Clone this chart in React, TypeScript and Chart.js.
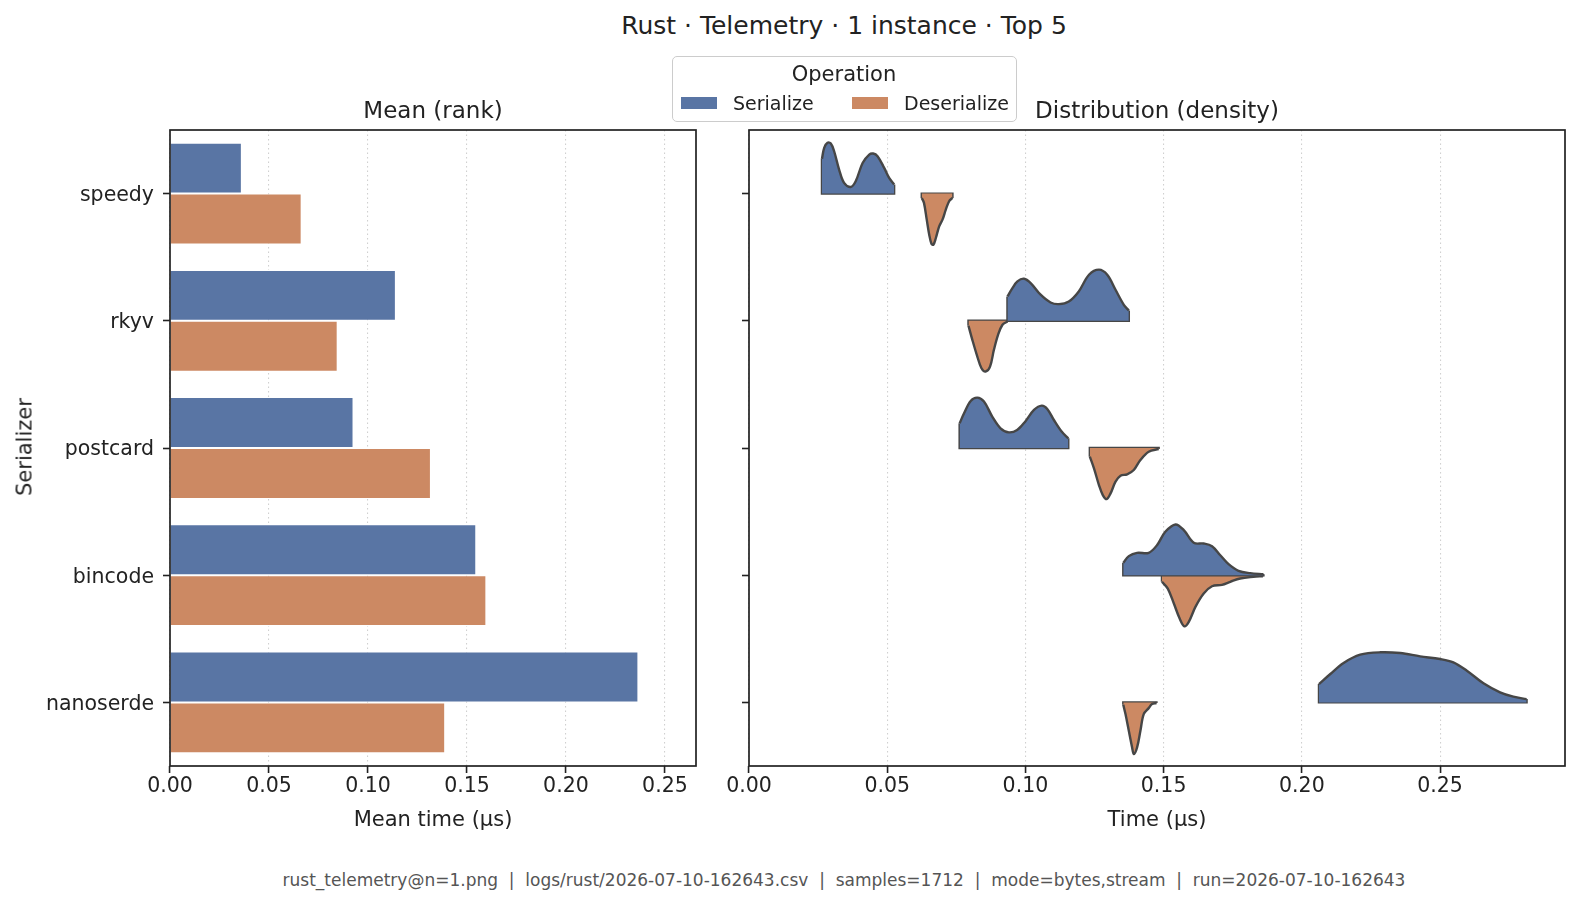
import React, { useEffect, useRef } from 'react';
import { Chart, registerables } from 'chart.js';

Chart.register(...registerables);

const FONT = 'DejaVu Sans';
const BLUE = '#5975a4';
const ORANGE = '#cc8963';
const LINE = '#464646';
const INK = '#222222';

const serializers = ['speedy', 'rkyv', 'postcard', 'bincode', 'nanoserde'];
const operations = ['Serialize', 'Deserialize'];
const meanSerialize = [0.0363, 0.1141, 0.0927, 0.1547, 0.2366];
const meanDeserialize = [0.0665, 0.0847, 0.1318, 0.1598, 0.139];
const meanTicks = [0, 0.05, 0.1, 0.15, 0.2, 0.25];
const timeTicks = [0, 0.05, 0.1, 0.15, 0.2, 0.25];

// [time (µs), half-width in category units]
const speedySer: [number, number][] = [
  [0.0264, 0.273], [0.0272, 0.36], [0.0284, 0.399], [0.0296, 0.394], [0.0308, 0.333],
  [0.0326, 0.189], [0.0344, 0.084], [0.0368, 0.052], [0.0386, 0.097], [0.0411, 0.241],
  [0.0435, 0.307], [0.0449, 0.315], [0.0465, 0.294], [0.0489, 0.202], [0.0507, 0.123], [0.0525, 0.071],
];
const speedyDe: [number, number][] = [
  [0.0625, 0.035], [0.0633, 0.073], [0.0643, 0.205], [0.0652, 0.323], [0.066, 0.394],
  [0.0667, 0.402], [0.0676, 0.349], [0.0688, 0.257], [0.07, 0.205], [0.0712, 0.126],
  [0.0724, 0.06], [0.0736, 0.034],
];
const rkyvSer: [number, number][] = [
  [0.0935, 0.192], [0.0953, 0.257], [0.0971, 0.31], [0.0995, 0.331], [0.1019, 0.297],
  [0.1055, 0.205], [0.1091, 0.144], [0.1121, 0.131], [0.1157, 0.152], [0.1193, 0.231],
  [0.123, 0.362], [0.1266, 0.402], [0.1296, 0.362], [0.1326, 0.244], [0.1356, 0.126], [0.1374, 0.081],
];
const rkyvDe: [number, number][] = [
  [0.0794, 0.039], [0.0808, 0.15], [0.0826, 0.281], [0.0841, 0.373], [0.0856, 0.399],
  [0.0872, 0.36], [0.0886, 0.228], [0.0901, 0.11], [0.0917, 0.031], [0.0935, 0.005],
];
const postcardSer: [number, number][] = [
  [0.0762, 0.194], [0.0778, 0.273], [0.0802, 0.37], [0.0826, 0.396], [0.085, 0.365],
  [0.088, 0.247], [0.091, 0.155], [0.094, 0.123], [0.097, 0.142], [0.1001, 0.213],
  [0.1031, 0.299], [0.1059, 0.333], [0.1079, 0.307], [0.1103, 0.22], [0.1131, 0.129], [0.1155, 0.076],
];
const postcardDe: [number, number][] = [
  [0.1233, 0.068], [0.1248, 0.16], [0.1266, 0.291], [0.128, 0.37], [0.1294, 0.402],
  [0.1308, 0.357], [0.1326, 0.265], [0.1344, 0.218], [0.1368, 0.207], [0.1392, 0.173],
  [0.1416, 0.094], [0.1446, 0.029], [0.1482, 0.008],
];
const bincodeSer: [number, number][] = [
  [0.1354, 0.097], [0.1374, 0.15], [0.1404, 0.176], [0.1446, 0.176], [0.1476, 0.236],
  [0.1506, 0.341], [0.1543, 0.399], [0.1573, 0.354], [0.1609, 0.255], [0.1645, 0.249],
  [0.1675, 0.228], [0.1705, 0.157], [0.1735, 0.087], [0.1771, 0.034], [0.1813, 0.016], [0.1861, 0.008],
];
const bincodeDe: [number, number][] = [
  [0.1494, 0.052], [0.1515, 0.105], [0.1537, 0.223], [0.1558, 0.341], [0.1575, 0.402],
  [0.1591, 0.367], [0.1615, 0.249], [0.1645, 0.144], [0.1675, 0.087], [0.1711, 0.076],
  [0.1741, 0.052], [0.1777, 0.026], [0.1825, 0.013], [0.1859, 0.008],
];
const nanoserdeSer: [number, number][] = [
  [0.2062, 0.144], [0.2103, 0.223], [0.2151, 0.31], [0.2211, 0.375], [0.2284, 0.394],
  [0.2356, 0.388], [0.2428, 0.362], [0.25, 0.341], [0.2548, 0.315], [0.2597, 0.249],
  [0.2657, 0.15], [0.2717, 0.079], [0.2765, 0.045], [0.2813, 0.026],
];
const nanoserdeDe: [number, number][] = [
  [0.1354, 0.018], [0.1362, 0.092], [0.1374, 0.223], [0.1386, 0.354], [0.1392, 0.407],
  [0.1404, 0.354], [0.1416, 0.223], [0.1428, 0.092], [0.1446, 0.045], [0.1458, 0.013], [0.1474, 0.005],
];

const serializeDensity = [speedySer, rkyvSer, postcardSer, bincodeSer, nanoserdeSer];
const deserializeDensity = [speedyDe, rkyvDe, postcardDe, bincodeDe, nanoserdeDe];

const boxPlugin = {
  id: 'axesBox',
  afterDraw(chart: any) {
    const { ctx, chartArea: a } = chart;
    ctx.save();
    ctx.strokeStyle = INK;
    ctx.lineWidth = 1.7;
    ctx.strokeRect(a.left, a.top, a.right - a.left, a.bottom - a.top);
    ctx.restore();
  },
};

const tickFont = { family: FONT, size: 20.5 };

function xScale(max: number, ticks: number[]) {
  return {
    type: 'linear' as const,
    position: 'bottom' as const,
    min: 0,
    max,
    afterBuildTicks: (s: any) => {
      s.ticks = ticks.map((v) => ({ value: v }));
    },
    afterFit: (s: any) => {
      s.height = 94;
    },
    ticks: {
      font: tickFont,
      color: INK,
      padding: 1,
      maxRotation: 0,
      autoSkip: false,
      callback: (v: any) => Number(v).toFixed(2),
    },
    grid: {
      color: '#d0d0d0',
      lineWidth: 1.1,
      tickColor: INK,
      tickLength: 7,
      tickWidth: 1.6,
      drawTicks: true,
    },
    border: { display: false, dash: [1.5, 3] },
  };
}

function halfViolin(pts: [number, number][], center: number, sign: number, color: string) {
  const fillSet = {
    data: pts.map(([x, h]) => ({ x, y: center + sign * h })),
    fill: { value: center },
    backgroundColor: color,
    borderColor: LINE,
    borderWidth: 2.4,
    tension: 0.35,
    pointRadius: 0,
  };
  const first = pts[0];
  const last = pts[pts.length - 1];
  const edgeSet = {
    data: [
      { x: first[0], y: center + sign * first[1] },
      { x: first[0], y: center },
      { x: last[0], y: center },
      { x: last[0], y: center + sign * last[1] },
    ],
    fill: false,
    borderColor: LINE,
    borderWidth: 2.4,
    tension: 0,
    pointRadius: 0,
  };
  return [fillSet, edgeSet];
}

export default function App() {
  const leftRef = useRef<HTMLCanvasElement>(null);
  const rightRef = useRef<HTMLCanvasElement>(null);

  useEffect(() => {
    const left = new Chart(leftRef.current as HTMLCanvasElement, {
      type: 'bar',
      data: {
        labels: serializers,
        datasets: [
          {
            label: operations[0],
            data: meanSerialize,
            backgroundColor: BLUE,
            borderColor: '#ffffff',
            borderWidth: 1,
            categoryPercentage: 0.8,
            barPercentage: 1.0,
          },
          {
            label: operations[1],
            data: meanDeserialize,
            backgroundColor: ORANGE,
            borderColor: '#ffffff',
            borderWidth: 1,
            categoryPercentage: 0.8,
            barPercentage: 1.0,
          },
        ],
      },
      options: {
        indexAxis: 'y',
        responsive: false,
        animation: false,
        events: [],
        layout: { padding: { top: 30, right: 14, left: 0, bottom: 0 } },
        plugins: { legend: { display: false }, tooltip: { enabled: false } },
        scales: {
          x: xScale(0.2657, meanTicks),
          y: {
            type: 'category',
            afterFit: (s: any) => {
              s.width = 170;
            },
            ticks: { font: tickFont, color: INK, padding: 9, labelOffset: 2 },
            grid: {
              drawOnChartArea: false,
              drawTicks: true,
              offset: false,
              tickLength: 7,
              tickWidth: 1.6,
              tickColor: INK,
            },
            border: { display: false },
          },
        },
      },
      plugins: [boxPlugin],
    } as any);

    const datasets: any[] = [];
    serializers.forEach((_, i) => {
      datasets.push(...halfViolin(serializeDensity[i], i, -1, BLUE));
      datasets.push(...halfViolin(deserializeDensity[i], i, 1, ORANGE));
    });

    const right = new Chart(rightRef.current as HTMLCanvasElement, {
      type: 'line',
      data: { datasets },
      options: {
        responsive: false,
        animation: false,
        events: [],
        layout: { padding: { top: 30, right: 14, left: 0, bottom: 0 } },
        plugins: { legend: { display: false }, tooltip: { enabled: false } },
        scales: {
          x: xScale(0.2952, timeTicks),
          y: {
            type: 'linear',
            min: -0.5,
            max: 4.5,
            reverse: true,
            afterBuildTicks: (s: any) => {
              s.ticks = serializers.map((_, i) => ({ value: i }));
            },
            afterFit: (s: any) => {
              s.width = 29;
            },
            ticks: { font: tickFont, callback: () => '' },
            grid: {
              drawOnChartArea: false,
              drawTicks: true,
              tickLength: 7,
              tickWidth: 1.6,
              tickColor: INK,
            },
            border: { display: false },
          },
        },
      },
      plugins: [boxPlugin],
    } as any);

    return () => {
      left.destroy();
      right.destroy();
    };
  }, []);

  const text = (
    x: number,
    y: number,
    s: string,
    size: number,
    extra: React.CSSProperties = {},
    anchor = 'translate(-50%,-50%)'
  ) => (
    <div
      style={{
        position: 'absolute',
        left: x,
        top: y,
        transform: anchor,
        fontFamily: FONT,
        fontSize: size,
        lineHeight: 1,
        whiteSpace: 'nowrap',
        color: INK,
        ...extra,
      }}
    >
      {s}
    </div>
  );

  return (
    <div
      style={{
        position: 'absolute',
        left: 0,
        top: 0,
        width: 1579,
        height: 905,
        background: '#ffffff',
        overflow: 'hidden',
      }}
    >
      <canvas
        ref={leftRef}
        width={710}
        height={760}
        style={{ position: 'absolute', left: 0, top: 100, width: 710, height: 760, display: 'block' }}
      />
      <canvas
        ref={rightRef}
        width={859}
        height={760}
        style={{ position: 'absolute', left: 720, top: 100, width: 859, height: 760, display: 'block' }}
      />
      {text(844, 25, 'Rust · Telemetry · 1 instance · Top 5', 25)}
      {text(433, 110, 'Mean (rank)', 23)}
      {text(1157, 110, 'Distribution (density)', 23)}
      {text(433, 819, 'Mean time (µs)', 21)}
      {text(1157, 819, 'Time (µs)', 21)}
      {text(25, 447, 'Serializer', 21, {}, 'translate(-50%,-50%) rotate(-90deg)')}
      {text(844, 880, 'rust_telemetry@n=1.png  |  logs/rust/2026-07-10-162643.csv  |  samples=1712  |  mode=bytes,stream  |  run=2026-07-10-162643', 17, { color: '#555555', whiteSpace: 'pre' })}
      <div
        style={{
          position: 'absolute',
          left: 672,
          top: 56,
          width: 343,
          height: 64,
          border: '1.3px solid #cccccc',
          borderRadius: 5,
          background: 'rgba(255,255,255,0.85)',
        }}
      />
      {text(844, 74, 'Operation', 21)}
      <div style={{ position: 'absolute', left: 681, top: 97, width: 36, height: 12, background: BLUE }} />
      {text(733, 103, operations[0], 19, {}, 'translate(0,-50%)')}
      <div style={{ position: 'absolute', left: 852, top: 97, width: 36, height: 12, background: ORANGE }} />
      {text(904, 103, operations[1], 19, {}, 'translate(0,-50%)')}
    </div>
  );
}
